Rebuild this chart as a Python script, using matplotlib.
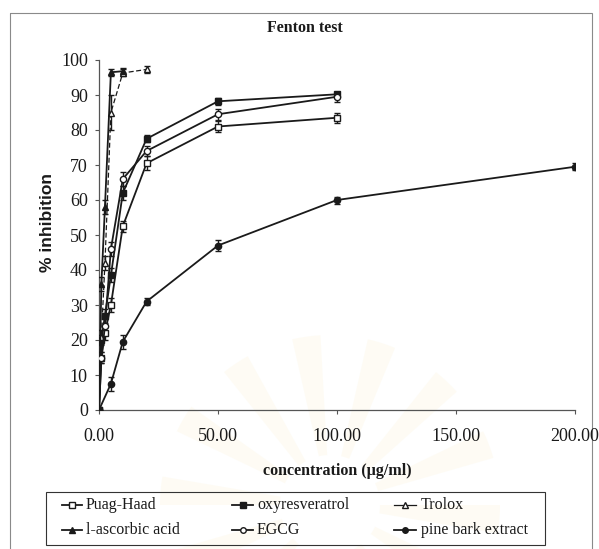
import numpy as np
import matplotlib
matplotlib.use("Agg")
import matplotlib.pyplot as plt
from matplotlib.patches import Rectangle, Wedge
from matplotlib.lines import Line2D

# Concentrations (µg/ml) and % inhibition with standard deviations
puag_conc = [0, 1, 2.5, 5, 10, 20, 50, 100]
puag_val = [0, 15, 22, 30, 52.5, 70.5, 81, 83.5]
puag_err = [0, 1.5, 2, 2, 1.5, 2, 1.5, 1.5]

oxy_conc = [0, 1, 2.5, 5, 10, 20, 50, 100]
oxy_val = [0, 20, 27, 38.5, 62, 77.5, 88.2, 90.2]
oxy_err = [0, 1.5, 2, 2, 2, 1, 1, 0.8]

trolox_conc = [0, 1, 2.5, 5, 10, 20]
trolox_val = [0, 21, 42, 85, 96.3, 97.3]
trolox_err = [0, 2, 2, 5, 1, 1]

asc_conc = [0, 1, 2.5, 5, 10]
asc_val = [0, 36, 58, 96.5, 96.8]
asc_err = [0, 2, 2, 1, 1]

egcg_conc = [0, 1, 2.5, 5, 10, 20, 50, 100]
egcg_val = [0, 15, 24, 46, 66, 74, 84.5, 89.5]
egcg_err = [0, 1.5, 2, 2, 2, 1.5, 1.5, 1.5]

pine_conc = [0, 5, 10, 20, 50, 100, 200]
pine_val = [0, 7.5, 19.5, 31, 47, 60, 69.5]
pine_err = [0, 2, 2, 1, 1.5, 1, 1]

x_ticks = [0, 50, 100, 150, 200]
x_ticklabels = ["0.00", "50.00", "100.00", "150.00", "200.00"]
y_ticks = list(range(0, 101, 10))

INK = "#1a1a1a"
W, H = 599, 549
plt.rcParams["font.family"] = ["Liberation Serif", "DejaVu Serif"]
fig = plt.figure(figsize=(W / 100, H / 100), dpi=100)


def fx(px):
    return px / W


def fy(py):
    return 1 - py / H


# faint seal watermark on a background layer
bg = fig.add_axes([0, 0, 1, 1], zorder=-5)
bg.set_xlim(0, W)
bg.set_ylim(H, 0)
bg.axis("off")
n_rays = 28
for i in range(0, n_rays, 2):
    a0 = i * 360 / n_rays
    bg.add_patch(Wedge((330, 505), 170, a0, a0 + 360 / n_rays * 0.75,
                       width=120, facecolor="#fcf4dc", edgecolor="none",
                       alpha=0.3))

# outer chart frame
bg.add_patch(Rectangle((10, 13), 582, H, fill=False,
                       edgecolor="#8a8a8a", linewidth=0.8))

ax = fig.add_axes([fx(99), fy(410), fx(476), 350 / H])
ax.patch.set_alpha(0)
ax.set_xlim(0, 200)
ax.set_ylim(0, 100)
for s in ("top", "right"):
    ax.spines[s].set_visible(False)
for s in ("left", "bottom"):
    ax.spines[s].set_color("#555555")
    ax.spines[s].set_linewidth(0.9)

series = [
    ("Puag-Haad", puag_conc, puag_val, puag_err, "s", "white", "-"),
    ("oxyresveratrol", oxy_conc, oxy_val, oxy_err, "s", INK, "-"),
    ("Trolox", trolox_conc, trolox_val, trolox_err, "^", "white", (0, (4, 2))),
    ("l-ascorbic acid", asc_conc, asc_val, asc_err, "^", INK, "-"),
    ("EGCG", egcg_conc, egcg_val, egcg_err, "o", "white", "-"),
    ("pine bark extract", pine_conc, pine_val, pine_err, "o", INK, "-"),
]

styles = {}
for name, xc, yv, ye, mk, fc, ls in series:
    lw = 0.9 if name == "Trolox" else 1.3
    ax.errorbar(xc, yv, yerr=ye, color=INK, linewidth=lw, linestyle=ls,
                marker=mk, markersize=4.5, markerfacecolor=fc,
                markeredgecolor=INK, markeredgewidth=1.0,
                elinewidth=1.0, capsize=2.5, capthick=1.0, zorder=3)
    styles[name] = (mk, fc, lw)

ax.set_xticks(x_ticks)
ax.set_xticklabels(x_ticklabels)
ax.set_yticks(y_ticks)
ax.tick_params(axis="both", direction="out", length=3, width=0.8,
               color="#555555", labelsize=13, labelcolor=INK)
ax.tick_params(axis="x", pad=10)
ax.tick_params(axis="y", pad=5)

fig.text(fx(305), fy(28), "Fenton test", ha="center", va="center",
         fontsize=11.5, fontweight="bold", color=INK)
fig.text(fx(47), fy(222), "% inhibition", ha="center", va="center",
         rotation=90, fontsize=12.5, fontweight="bold",
         family=["Liberation Sans", "DejaVu Sans"], color=INK)
fig.text(fx(337), fy(471), "concentration (µg/ml)", ha="center", va="center",
         fontsize=11.5, fontweight="bold", color=INK)

# legend box drawn in figure pixels
bg.add_patch(Rectangle((46, 492), 545 - 46, 545 - 492, facecolor="none",
                       edgecolor="#333333", linewidth=0.8))
rows = [505, 530]
cols = [(62, 82, 86), (232, 253, 257), (394, 416, 421)]
layout = [["Puag-Haad", "oxyresveratrol", "Trolox"],
          ["l-ascorbic acid", "EGCG", "pine bark extract"]]
for r, row_names in enumerate(layout):
    for c, name in enumerate(row_names):
        mk, fc, lw = styles[name]
        x0, x1, xt = cols[c]
        y = fy(rows[r])
        fig.add_artist(Line2D([fx(x0), fx(x1)], [y, y], transform=fig.transFigure,
                              color=INK, linewidth=lw))
        fig.add_artist(Line2D([fx((x0 + x1) / 2)], [y], transform=fig.transFigure,
                              marker=mk, markersize=4, markerfacecolor=fc,
                              markeredgecolor=INK, markeredgewidth=1.0,
                              linestyle="none"))
        fig.text(fx(xt), y, name, ha="left", va="center", fontsize=11.5, color=INK)

fig.savefig("out.png", dpi=100)
